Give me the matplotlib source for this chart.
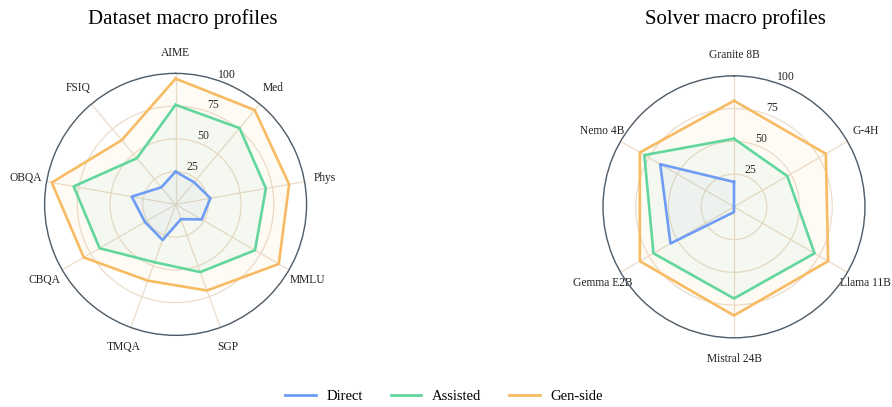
import numpy as np
import matplotlib
matplotlib.use("Agg")
import matplotlib.pyplot as plt
from matplotlib.lines import Line2D

plt.rcParams['font.family'] = ['Liberation Serif', 'DejaVu Serif']

series_names = ["Direct", "Assisted", "Gen-side"]
colors = ["#6f9cf5", "#62d69c", "#f7bb63"]

dataset_cats = ["AIME", "Med", "Phys", "MMLU", "SGP", "TMQA", "CBQA", "OBQA", "FSIQ"]
dataset_direct = [25, 22, 27, 23, 12, 29, 27, 34, 17]
dataset_assisted = [76, 76, 70, 70, 55, 47, 67, 79, 46]
dataset_genside = [96, 94, 88, 91, 70, 62, 81, 96, 64]

solver_cats = ["Granite 8B", "G-4H", "Llama 11B", "Mistral 24B", "Gemma E2B", "Nemo 4B"]
solver_direct = [19, 0, 0, 4, 56, 65]
solver_assisted = [52, 47, 71, 70, 71, 79]
solver_genside = [81, 81, 83, 83, 83, 83]

rticks = [25, 50, 75, 100]

fig = plt.figure(figsize=(8.92, 4.07), dpi=100)

def radar(rect, title, cats, data, title_x):
    ax = fig.add_axes(rect, projection="polar")
    ax.set_theta_zero_location("N")
    ax.set_theta_direction(-1)
    n = len(cats)
    ang = np.linspace(0, 2 * np.pi, n, endpoint=False)
    for vals, c in zip(data, colors):
        v = list(vals) + [vals[0]]
        a = list(ang) + [ang[0]]
        ax.fill(a, v, color=c, alpha=0.06, zorder=2)
        ax.plot(a, v, color=c, lw=1.9, zorder=3)
    ax.set_ylim(0, 100)
    ax.set_yticks(rticks)
    ax.set_yticklabels([str(t) for t in rticks], fontsize=8.5, color="#222222")
    ax.set_rlabel_position(19)
    ax.set_xticks(ang)
    ax.set_xticklabels(cats, fontsize=8.3, color="#222222")
    ax.tick_params(axis="x", pad=4.5)
    ax.grid(color="#ebdccb", lw=0.9)
    ax.spines["polar"].set_color("#4f5d6b")
    ax.spines["polar"].set_linewidth(1.0)
    fig.text(title_x, 0.953, title, fontsize=15, ha="center", va="center")
    return ax

radar([0.050, 0.176, 0.2937, 0.6437], "Dataset macro profiles",
      dataset_cats, [dataset_direct, dataset_assisted, dataset_genside], 183 / 892)
radar([0.676, 0.170, 0.2937, 0.6437], "Solver macro profiles",
      solver_cats, [solver_direct, solver_assisted, solver_genside], 735 / 892)

handles = [Line2D([0], [0], color=c, lw=2.0) for c in colors]
fig.legend(handles, series_names, loc="center", bbox_to_anchor=(0.498, 0.027),
           ncol=3, frameon=False, fontsize=10.5, handlelength=2.1,
           columnspacing=1.9, handletextpad=0.75)

fig.savefig("out.png", dpi=100)
